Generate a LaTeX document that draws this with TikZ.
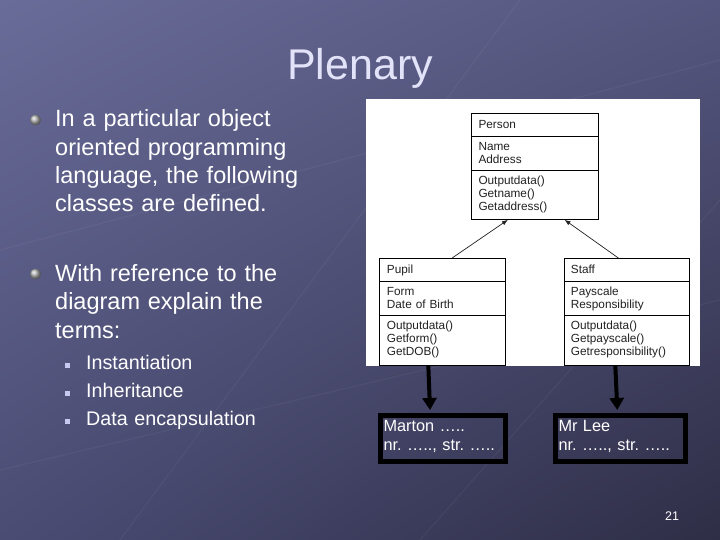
\documentclass[tikz,border=0pt]{standalone}
\usepackage{fontspec}
\setmainfont{Liberation Sans}
\usetikzlibrary{arrows.meta,calc,shadings}
\frenchspacing
\definecolor{bgtl}{HTML}{696C98}
\definecolor{bgtr}{HTML}{55567F}
\definecolor{bgbl}{HTML}{4A4C74}
\definecolor{bgbr}{HTML}{2E2E46}
\definecolor{titlecol}{HTML}{E2E2F8}
\definecolor{sqcol}{HTML}{C8C8F0}
\definecolor{umlink}{HTML}{222222}
\tikzset{
  titletext/.style={text=titlecol,font=\fontsize{43}{50}\selectfont,inner sep=0pt},
  bullettext/.style={text=white,font=\fontsize{23.5}{28.3}\selectfont\frenchspacing,align=left,text width=300pt,inner sep=0pt,anchor=base west},
  subtext/.style={text=white,font=\fontsize{19.7}{28}\selectfont\frenchspacing,align=left,text width=250pt,inner sep=0pt,anchor=base west},
  ballbullet/.style={circle,ball color=gray!60,minimum size=11pt,inner sep=0pt},
  subsq/.style={rectangle,fill=sqcol,minimum size=5pt,inner sep=0pt},
  umlbox/.style={draw=black,line width=0.8pt,anchor=north west,inner sep=0pt},
  umltext/.style={text=umlink,font=\fontsize{11.8}{13}\selectfont\frenchspacing,align=left,text width=120pt,inner sep=0pt,anchor=base west},
  umlarrow/.style={draw=umlink,line width=0.7pt,-{Latex[length=6pt,width=4.5pt]}},
  objbox/.style={draw=black,line width=5pt,inner sep=0pt,anchor=north west},
  objtext/.style={text=white,font=\fontsize{16.3}{18.5}\selectfont\frenchspacing,align=left,text width=130pt,inner sep=0pt,anchor=base west},
  objarrow/.style={draw=black,line width=4pt,-{Triangle[length=12pt,width=14pt]}},
  pagetext/.style={text=white,font=\fontsize{12.5}{14}\selectfont,inner sep=0pt,anchor=base west}
}
\begin{document}
\begin{tikzpicture}[x=1pt,y=-1pt]
\useasboundingbox (0,0) rectangle (720,540);
\shade[upper left=bgtl,upper right=bgtr,lower left=bgbl,lower right=bgbr] (0,0) rectangle (720,540);
% faint background network
\begin{scope}[draw=white,opacity=0.045,line width=1.2pt]
\draw (0,250) -- (720,60);
\draw (0,470) -- (720,300);
\draw (120,540) -- (520,0);
\draw (420,540) -- (720,200);
\end{scope}
% title
\node[titletext] (title) at (360,68) {Plenary};
% bullets
\node[ballbullet] (bb1) at (35.5,120) {};
\node[bullettext] (b1) at (55,127) {In a particular object\\oriented programming\\language, the following\\classes are defined.};
\node[ballbullet] (bb2) at (35.5,274) {};
\node[bullettext] (b2) at (55,281.5) {With reference to the\\diagram explain the\\terms:};
\node[subsq] (sq1) at (67.5,365.5) {};
\node[subsq] (sq2) at (67.5,393.5) {};
\node[subsq] (sq3) at (67.5,421.5) {};
\node[subtext] (s1) at (86,369) {Instantiation\\Inheritance\\Data encapsulation};
% diagram background
\node[fill=white,anchor=north west,minimum width=334pt,minimum height=267pt,inner sep=0pt] (diag) at (366,99) {};
% Person
\node[umlbox,minimum width=127pt,minimum height=106pt] (person) at (471,113) {};
\draw[line width=0.8pt] (471,136) -- (598,136);
\draw[line width=0.8pt] (471,170) -- (598,170);
\node[umltext] (pname) at (478.3,128.7) {Person};
\node[umltext] (pattr) at (478.3,150.5) {Name\\Address};
\node[umltext] (pmeth) at (478.3,184.5) {Outputdata()\\Getname()\\Getaddress()};
% Pupil
\node[umlbox,minimum width=126pt,minimum height=107pt] (pupil) at (379,258) {};
\draw[line width=0.8pt] (379,281) -- (505,281);
\draw[line width=0.8pt] (379,315) -- (505,315);
\node[umltext] (uname) at (386.7,273) {Pupil};
\node[umltext] (uattr) at (386.7,295) {Form\\Date of Birth};
\node[umltext] (umeth) at (386.7,329.5) {Outputdata()\\Getform()\\GetDOB()};
% Staff
\node[umlbox,minimum width=125pt,minimum height=107pt] (staff) at (564,258) {};
\draw[line width=0.8pt] (564,281) -- (689,281);
\draw[line width=0.8pt] (564,315) -- (689,315);
\node[umltext] (sname) at (570.7,273) {Staff};
\node[umltext] (sattr) at (570.7,295) {Payscale\\Responsibility};
\node[umltext] (smeth) at (570.7,329.5) {Outputdata()\\Getpayscale()\\Getresponsibility()};
% inheritance arrows
\draw[umlarrow] ($(pupil.north west)!0.577!(pupil.north east)$) -- ($(person.south west)!0.289!(person.south east)$);
\draw[umlarrow] ($(staff.north west)!0.432!(staff.north east)$) -- ($(person.south west)!0.732!(person.south east)$);
% objects
\node[objbox,minimum width=125pt,minimum height=46.7pt] (marton) at (377.5,412.5) {};
\node[objbox,minimum width=130pt,minimum height=46.7pt] (lee) at (552.5,412.5) {};
\node[objtext] (mtext) at (383.3,431.5) {Marton …..\\nr. ….., str. …..};
\node[objtext] (ltext) at (558.3,431.5) {Mr Lee\\nr. ….., str. …..};
\draw[objarrow] ($(pupil.south west)!0.389!(pupil.south east)$) -- ($(marton.north west)!0.404!(marton.north east)+(0,-2.5)$);
\draw[objarrow] ($(staff.south west)!0.408!(staff.south east)$) -- ($(lee.north west)!0.48!(lee.north east)+(0,-2.5)$);
% page number
\node[pagetext] (page) at (665,520.7) {21};
\end{tikzpicture}
\end{document}
